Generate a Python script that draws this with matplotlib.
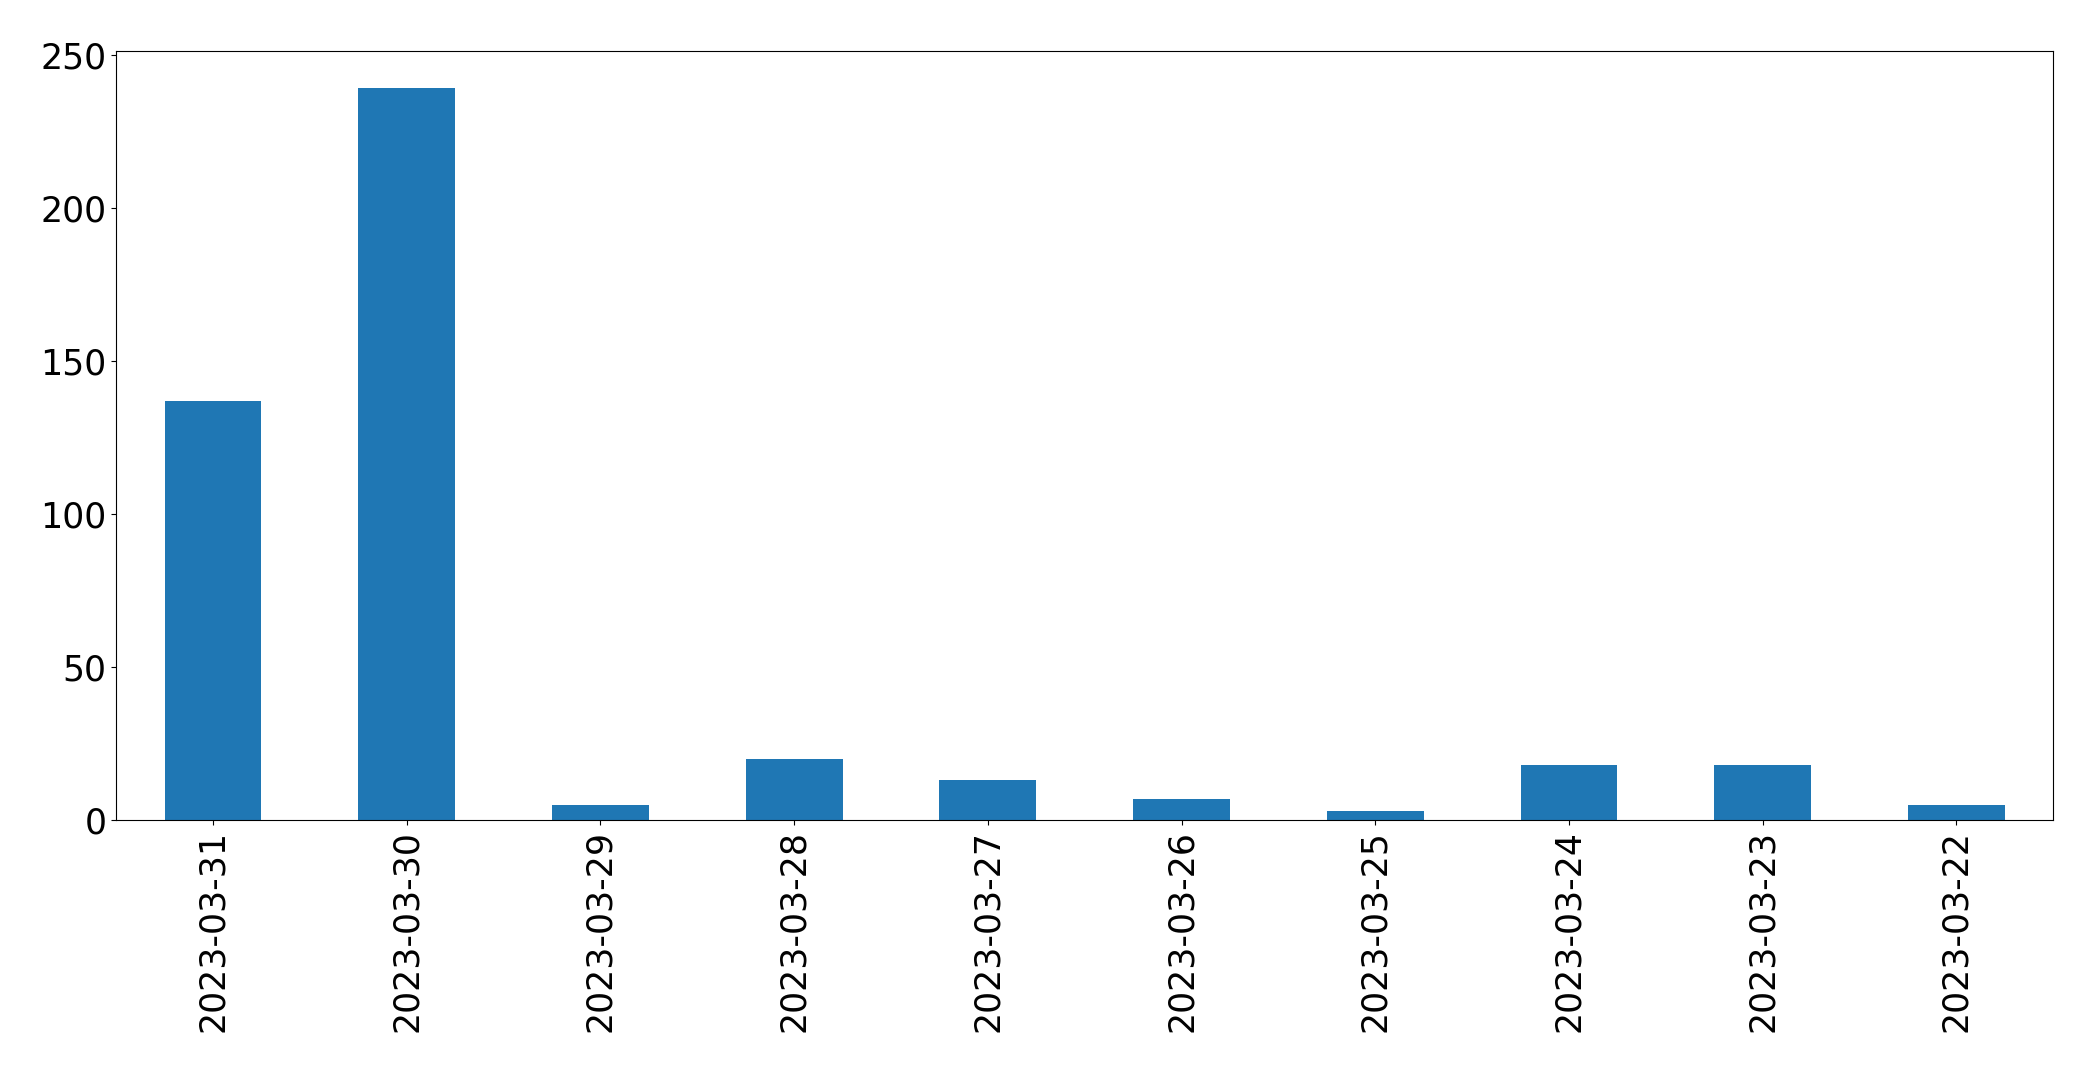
import matplotlib
matplotlib.use("Agg")
import matplotlib.pyplot as plt

# daily counts, newest first (as in the original pandas plot)
dates = ["2023-03-31", "2023-03-30", "2023-03-29", "2023-03-28", "2023-03-27",
         "2023-03-26", "2023-03-25", "2023-03-24", "2023-03-23", "2023-03-22"]
counts = [137, 239, 5, 20, 13, 7, 3, 18, 18, 5]

plt.rcParams['font.size'] = 25

fig, ax = plt.subplots(figsize=(20.93, 10.72), dpi=100)
fig.subplots_adjust(left=0.0555, right=0.981, top=0.952, bottom=0.235)

x = range(len(dates))
ax.bar(x, counts, width=0.5, color="#1f77b4")
ax.set_xticks(list(x))
ax.set_xticklabels(dates, rotation=90)
ax.set_xlim(-0.5, len(dates) - 0.5)
ax.set_ylim(0, 251)

fig.savefig("out.png", dpi=100)
